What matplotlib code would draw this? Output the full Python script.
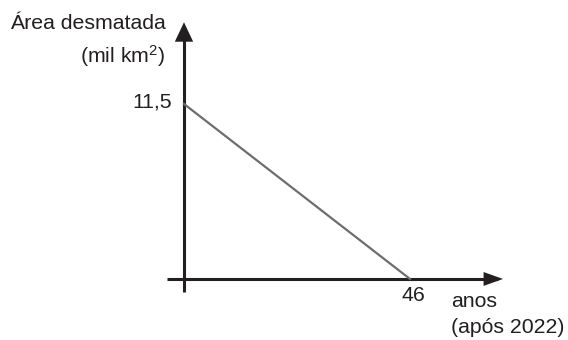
import matplotlib.pyplot as plt

plt.rcParams['font.family'] = ['Liberation Sans', 'DejaVu Sans']
plt.rcParams['mathtext.fontset'] = 'custom'
plt.rcParams['mathtext.rm'] = 'Liberation Sans'
plt.rcParams['mathtext.it'] = 'Liberation Sans'

# desmatamento: reta de 11,5 mil km2 (ano 0) ate zero em 46 anos
anos = [0, 46]
area = [11.5, 0]
y_ticks = [11.5]
y_tick_labels = ['11,5']
x_ticks = [46]
x_tick_labels = ['46']

ink = '#231f20'

fig = plt.figure(figsize=(5.68, 3.40), dpi=100)
ax = fig.add_axes([0, 0, 1, 1])
ax.set_xlim(-37.45, 78.16)
ax.set_ylim(-4.01, 18.33)
ax.axis('off')

# eixos com setas
ax.plot([0, 0], [-0.85, 16.0], color=ink, lw=2.2, solid_capstyle='butt')
ax.annotate('', xy=(0, 17.05), xytext=(0, 15.5),
            arrowprops=dict(arrowstyle='-|>,head_length=0.7,head_width=0.33',
                            color=ink, lw=0, mutation_scale=20))
ax.plot([-3.46, 64.0], [0, 0], color=ink, lw=2.2, solid_capstyle='butt')
ax.annotate('', xy=(65.5, 0), xytext=(62.0, 0),
            arrowprops=dict(arrowstyle='-|>,head_length=0.7,head_width=0.25',
                            color=ink, lw=0, mutation_scale=20))

# reta
ax.plot(anos, area, color='#6d6d6d', lw=1.6)

kw = dict(fontsize=15.3, color=ink)
for v, lab in zip(y_ticks, y_tick_labels):
    ax.text(-2.5, v + 0.1, lab, ha='right', va='center', **kw)
for v, lab in zip(x_ticks, x_tick_labels):
    ax.text(v + 0.6, -0.45, lab, ha='center', va='top', **kw)

ax.text(-35.4, 16.8, 'Área desmatada', ha='left', va='center', **kw)
ax.text(-3.87, 14.65, '(mil km$^2$)', ha='right', va='center', **kw)
ax.text(54.4, -1.5, 'anos', ha='left', va='center', **kw)
ax.text(54.4, -3.22, '(após 2022)', ha='left', va='center', **kw)

fig.savefig('out.png', dpi=100)
